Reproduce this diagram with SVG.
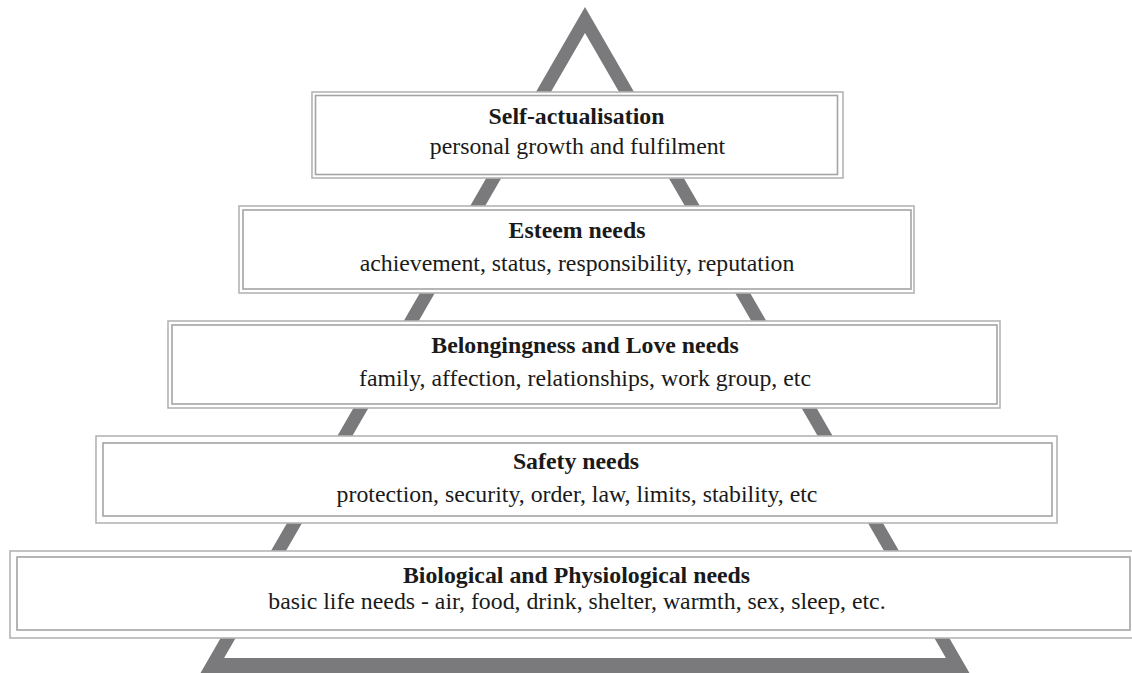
<svg xmlns="http://www.w3.org/2000/svg" width="1132" height="673" viewBox="0 0 1132 673">
<style>
.o{fill:#fff;stroke:#b4b4b4;stroke-width:1.6}
.i{fill:none;stroke:#a4a4a4;stroke-width:1.6}
.t{font-family:"Liberation Serif","Times New Roman",serif;font-size:23.8px;font-weight:bold;fill:#1a1a1a;text-anchor:middle}
.s{font-family:"Liberation Serif","Times New Roman",serif;font-size:23.8px;fill:#1a1a1a;text-anchor:middle}
</style>
<rect width="1132" height="673" fill="#fff"/>
<path id="pyramid" d="M585,7 L969.5,673 L200.5,673 Z M585,33 L224.1,658 L945.9,658 Z" fill="#7a7a7c" fill-rule="evenodd"/>
<g id="self">
<rect class="o" x="312" y="92" width="531" height="86"/>
<rect class="i" x="315.5" y="95.5" width="522" height="79"/>
<text class="t" x="576.5" y="124">Self-actualisation</text>
<text class="s" x="577.5" y="154">personal growth and fulfilment</text>
</g>
<g id="esteem">
<rect class="o" x="239" y="206" width="675" height="87"/>
<rect class="i" x="243" y="210" width="668" height="79"/>
<text class="t" x="577" y="238">Esteem needs</text>
<text class="s" x="577" y="271">achievement, status, responsibility, reputation</text>
</g>
<g id="belonging">
<rect class="o" x="168" y="321" width="832" height="87"/>
<rect class="i" x="172" y="325" width="825" height="79"/>
<text class="t" x="585" y="353">Belongingness and Love needs</text>
<text class="s" x="585" y="386">family, affection, relationships, work group, etc</text>
</g>
<g id="safety">
<rect class="o" x="96" y="436" width="961" height="87"/>
<rect class="i" x="103" y="443" width="949" height="73"/>
<text class="t" x="576" y="469">Safety needs</text>
<text class="s" x="577" y="502">protection, security, order, law, limits, stability, etc</text>
</g>
<g id="biological">
<rect class="o" x="10" y="551" width="1140" height="87"/>
<rect class="i" x="17" y="557" width="1113" height="73"/>
<text class="t" x="576.5" y="583">Biological and Physiological needs</text>
<text class="s" x="577" y="609">basic life needs - air, food, drink, shelter, warmth, sex, sleep, etc.</text>
</g>
<g id="connectors"></g>
</svg>
